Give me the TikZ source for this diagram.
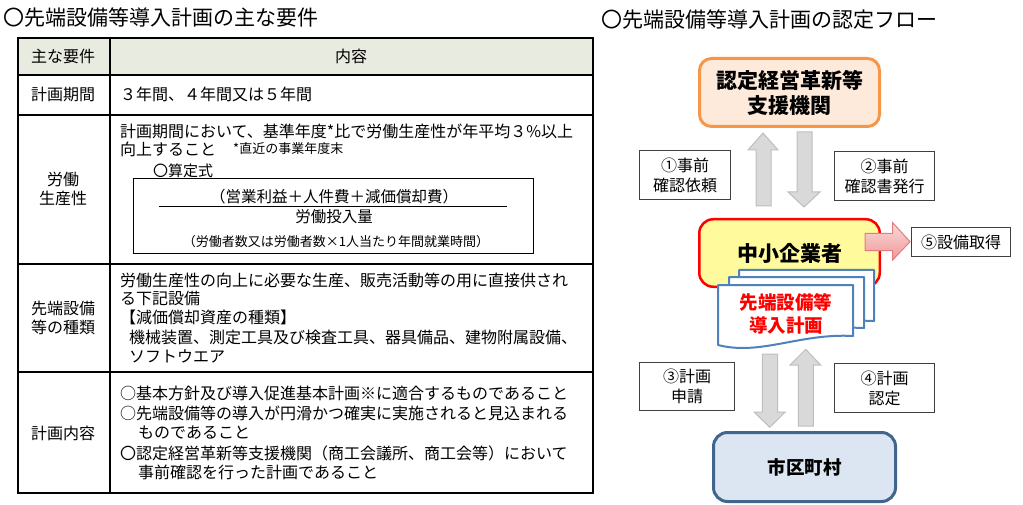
\documentclass[tikz,border=0pt]{standalone}
\usepackage{fontspec}
\setmainfont{Noto Sans CJK JP}
\definecolor{hdrF}{RGB}{232,235,224}
\definecolor{orgB}{RGB}{247,150,70}
\definecolor{orgF}{RGB}{253,234,218}
\definecolor{yelF}{RGB}{255,250,156}
\definecolor{docB}{RGB}{79,129,189}
\definecolor{cityF}{RGB}{220,230,242}
\definecolor{cityB}{RGB}{65,101,143}
\definecolor{grayF}{RGB}{217,217,217}
\definecolor{grayB}{RGB}{190,190,190}
\definecolor{pinkT}{RGB}{250,218,218}
\definecolor{pinkBo}{RGB}{240,152,152}
\definecolor{pinkD}{RGB}{225,125,125}
\definecolor{lblB}{RGB}{64,64,64}
\begin{document}
\begin{tikzpicture}[x=1pt,y=-1pt,
  tw/.style={inner sep=0pt,anchor=west,font=\fontsize{16}{20}\selectfont},
  tc/.style={inner sep=0pt,align=center,font=\fontsize{16}{19}\selectfont},
  ttl/.style={inner sep=0pt,anchor=west,font=\fontsize{21}{25}\selectfont},
  grid/.style={line width=1.3pt,draw=black},
  lbl/.style={draw=lblB,line width=1.2pt,fill=white,inner sep=0pt,align=center,font=\fontsize{16}{20}\selectfont},
  garrow/.style={fill=grayF,draw=grayB,line width=1pt},
  docsh/.style={fill=white,draw=docB,line width=2pt,line join=round},
  flowbox/.style={inner sep=0pt,align=center,font=\bfseries\fontsize{21}{25}\selectfont}]
\useasboundingbox (0,0) rectangle (1023,505);

% ---------------- left: table ----------------
\node[ttl] (ltitle) at (3,18) {〇先端設備等導入計画の主な要件};
\fill[hdrF] (18,38) rectangle (593,75);
\draw[grid] (18,75) -- (593,75);
\draw[grid] (18,115) -- (593,115);
\draw[grid] (18,264) -- (593,264);
\draw[grid] (18,372) -- (593,372);
\draw[grid] (110,38) -- (110,493);
\draw[line width=1.6pt] (18,38) rectangle (593,493);

\node[tc] (h1) at (63,56) {主な要件};
\node[tc] (h2) at (351,56) {内容};

\node[tc] (c1) at (63,94) {計画期間};
\node[tw] (r1) at (120,94) {３年間、４年間又は５年間};

\node[tc] (c2) at (63,188.5) {労働\\生産性};
\node[tw] (r2a) at (120,131) {計画期間において、基準年度*比で労働生産性が年平均３\%以上};
\node[tw] (r2b) at (120,149) {向上すること};
\node[tw,font=\fontsize{13}{16}\selectfont] (r2c) at (233,149) {*直近の事業年度末};
\node[tw,font=\fontsize{15}{18}\selectfont] (r2d) at (153,171) {〇算定式};
\draw[line width=1pt] (133,179) rectangle (533,254);
\node[tc,font=\fontsize{15.5}{18}\selectfont] (f1) at (334,197) {（営業利益＋人件費＋減価償却費）};
\draw[line width=0.9pt] (159,206) -- (507,206);
\node[tc,font=\fontsize{15.5}{18}\selectfont] (f2) at (334,217) {労働投入量};
\node[tc,font=\fontsize{13}{16}\selectfont] (f3) at (336,242) {（労働者数又は労働者数×1人当たり年間就業時間）};

\node[tc] (c3) at (63,317.5) {先端設備\\等の種類};
\node[tw] (r3a) at (120,280) {労働生産性の向上に必要な生産、販売活動等の用に直接供され};
\node[tw] (r3b) at (120,298) {る下記設備};
\node[tw] (r3c) at (120,317) {【減価償却資産の種類】};
\node[tw] (r3d) at (129,337) {機械装置、測定工具及び検査工具、器具備品、建物附属設備、};
\node[tw] (r3e) at (129,356) {ソフトウエア};

\node[tc] (c4) at (63,433) {計画内容};
\node[tw] (r4a) at (120,393) {○基本方針及び導入促進基本計画※に適合するものであること};
\node[tw] (r4b) at (120,413) {○先端設備等の導入が円滑かつ確実に実施されると見込まれる};
\node[tw] (r4c) at (138,433) {ものであること};
\node[tw] (r4d) at (120,453) {〇認定経営革新等支援機関（商工会議所、商工会等）において};
\node[tw] (r4e) at (138,472) {事前確認を行った計画であること};

% ---------------- right: flow ----------------
\node[ttl] (rtitle) at (601,20) {〇先端設備等導入計画の認定フロー};

\node[flowbox,draw=orgB,fill=orgF,line width=3pt,rounded corners=12pt,
      minimum width=180pt,minimum height=68pt] (sien) at (789.5,92.5) {認定経営革新等\\支援機関};

% arrows 1 & 2
\draw[garrow] (756,206) -- (756,150) -- (748,150) -- (763,133) -- (778,150) -- (771,150) -- (771,206) -- cycle;
\draw[garrow] (797,132) -- (812,132) -- (812,192) -- (820,192) -- (804,207) -- (788,192) -- (797,192) -- cycle;

\node[lbl,minimum width=91pt,minimum height=49pt] (b1) at (685,175) {①事前\\確認依頼};
\node[lbl,minimum width=100pt,minimum height=49pt] (b2) at (884.5,176) {②事前\\確認書発行};

\node[flowbox,draw=red,fill=yelF,line width=2.5pt,rounded corners=14pt,
      minimum width=180.5pt,minimum height=67.5pt] (chusho) at (789.5,253) {\raisebox{-2pt}{中小企業者}};

% document stack
\draw[docsh,shift={(21,-15)}] (718,285) -- (853,285) -- (853,336) .. controls (800,333) and (760,356) .. (718,345) -- cycle;
\draw[docsh,shift={(11,-8)}] (718,285) -- (853,285) -- (853,336) .. controls (800,333) and (760,356) .. (718,345) -- cycle;
\draw[docsh] (718,285) -- (853,285) -- (853,336) .. controls (800,333) and (760,356) .. (718,345) -- cycle;
\node[inner sep=0pt,align=center,text=red,font=\bfseries\fontsize{18.5}{23}\selectfont] (keikaku) at (786,313.5) {先端設備等\\導入計画};

% pink arrow and 5
\draw[top color=pinkT,bottom color=pinkBo,draw=pinkD,line width=1pt]
  (865,233.3) -- (892.7,233.3) -- (892.7,222.7) -- (910,241.7) -- (892.7,260) -- (892.7,250.7) -- (865,250.7) -- cycle;
\node[lbl,minimum width=99pt,minimum height=29pt] (b5) at (961,242) {⑤設備取得};

% arrows 3 & 4
\draw[garrow] (762.3,354) -- (777.7,354) -- (777.7,412) -- (785.3,412) -- (769.7,427.3) -- (754,412) -- (762.3,412) -- cycle;
\draw[garrow] (798.3,426) -- (798.3,365) -- (790,365) -- (805.7,349.3) -- (820.7,365) -- (813.3,365) -- (813.3,426) -- cycle;

\node[lbl,minimum width=95pt,minimum height=48pt] (b3) at (687,386.5) {③計画\\申請};
\node[lbl,minimum width=100pt,minimum height=49pt] (b4) at (884.5,388) {④計画\\認定};

\node[flowbox,draw=cityB,fill=cityF,line width=3pt,rounded corners=14pt,
      minimum width=182pt,minimum height=69pt,font=\bfseries\fontsize{18.5}{22}\selectfont] (shiku) at (804.5,467) {市区町村};
\end{tikzpicture}
\end{document}
